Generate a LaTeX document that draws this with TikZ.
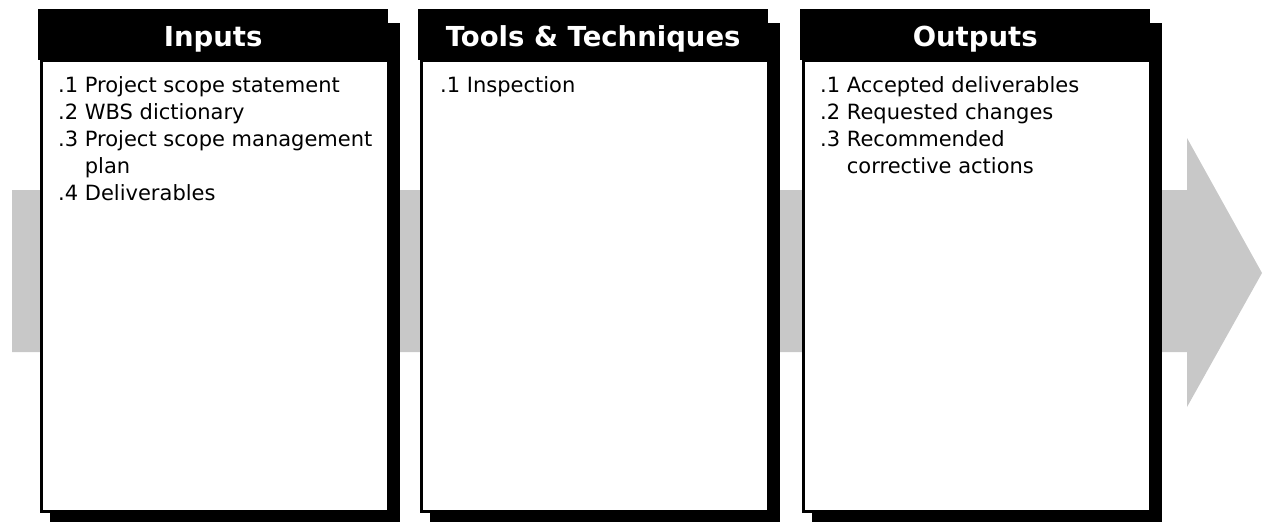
\documentclass[tikz,border=0pt]{standalone}
\usepackage{fontspec}
\setmainfont{DejaVu Sans}
\usetikzlibrary{positioning}
\definecolor{shaftgray}{RGB}{200,200,200}

\tikzset{
  panelhead/.style={fill=black, text=white, font=\fontsize{27.5}{30}\selectfont\bfseries,
    minimum width=350pt, minimum height=51pt, text height=23.5pt, text depth=0pt,
    inner sep=0pt, anchor=north west},
  panelbody/.style={draw=black, line width=3pt, fill=white, minimum width=347pt,
    minimum height=451pt, inner sep=0pt, anchor=north west},
  panelshadow/.style={fill=black},
  itemlist/.style={font=\fontsize{21}{27}\selectfont, inner sep=0pt, anchor=north west,
    align=left},
}

\begin{document}
\begin{tikzpicture}[x=1pt,y=-1pt]
  \useasboundingbox (0,0) rectangle (1269,522);
  % big grey arrow behind the panels
  \fill[shaftgray] (12,190) -- (1187,190) -- (1187,138) -- (1262,273)
    -- (1187,407) -- (1187,352) -- (12,352) -- cycle;
  % the three panels
  \foreach \i/\x/\title in {in/38/Inputs, tt/418/Tools \& Techniques, out/800/Outputs} {
    \fill[panelshadow] ({\x+12},23) rectangle ({\x+362},522);
    \node[panelbody] (\i-body) at ({\x+1.5},58.5) {};
    \node[panelhead] (\i-head) at (\x,9) {\title};
  }
  % inputs
  \node[itemlist] (in-list) at ([xshift=18.5pt,yshift=-15pt]in-body.north west) {%
    \begin{tabular}{@{}l@{\ }l@{}}
      .1 & Project scope statement\\
      .2 & WBS dictionary\\
      .3 & Project scope management\\
         & plan\\
      .4 & Deliverables
    \end{tabular}};
  % tools and techniques
  \node[itemlist] (tt-list) at ([xshift=20.5pt,yshift=-15pt]tt-body.north west) {%
    \begin{tabular}{@{}l@{\ }l@{}}
      .1 & Inspection
    \end{tabular}};
  % outputs
  \node[itemlist] (out-list) at ([xshift=18.5pt,yshift=-15pt]out-body.north west) {%
    \begin{tabular}{@{}l@{\ }l@{}}
      .1 & Accepted deliverables\\
      .2 & Requested changes\\
      .3 & Recommended\\
         & corrective actions
    \end{tabular}};
\end{tikzpicture}
\end{document}
